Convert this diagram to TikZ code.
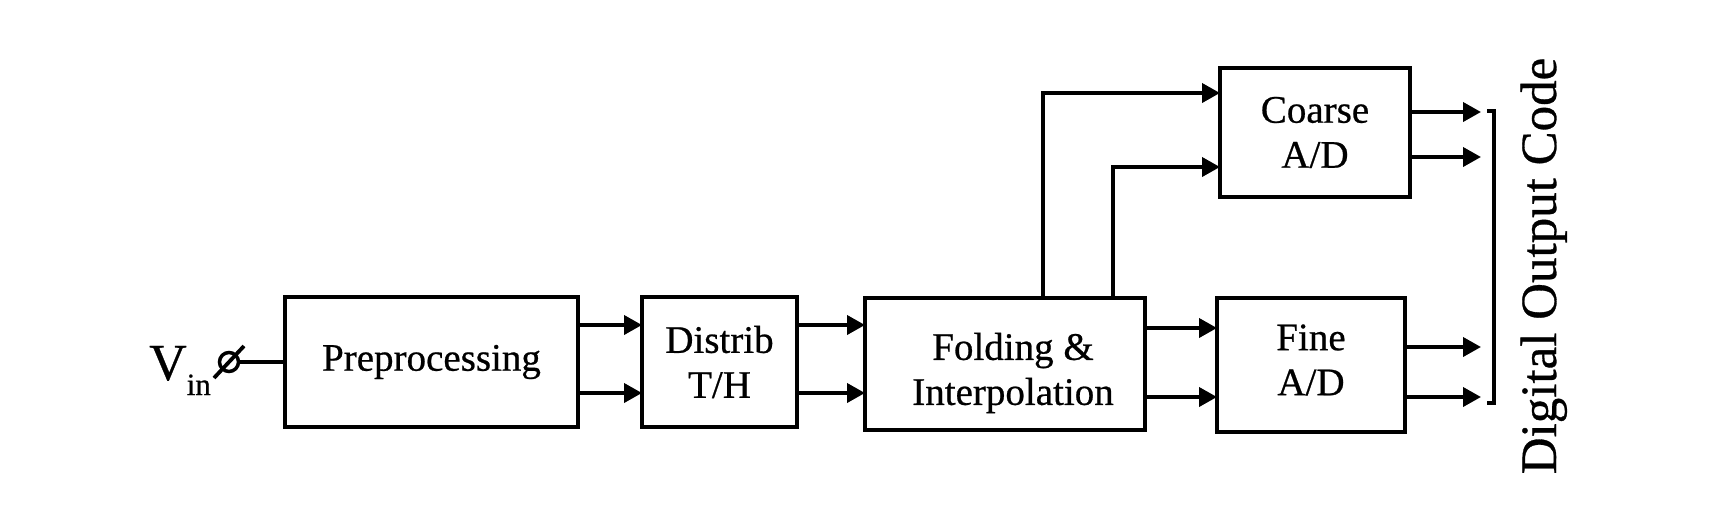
\documentclass[tikz,border=0pt]{standalone}
\usepackage{fontspec}
\setmainfont[FakeBold=0.6,AutoFakeBold=0.6]{Liberation Serif}
\usetikzlibrary{arrows.meta,calc}
\begin{document}
\begin{tikzpicture}[x=1pt,y=-1pt,
  blk/.style={draw, line width=4pt, rectangle, inner sep=0pt, outer sep=0pt, align=center,
    font=\fontsize{39}{45}\selectfont},
  txt/.style={inner sep=0pt, align=center, font=\fontsize{39}{45}\selectfont},
  arr/.style={line width=3.8pt, -{Triangle[length=18pt,width=19pt]}},
  wire/.style={line width=3.8pt}]
\useasboundingbox (0,0) rectangle (1717,525);

% blocks
\node[blk, minimum width=293pt, minimum height=130pt] (prep) at (431.5,362) {Preprocessing};
\node[blk, minimum width=155pt, minimum height=130pt] (dist) at (719.5,362) {Distrib\\T/H};
\node[blk, minimum width=280pt, minimum height=132pt] (fold) at (1005,364) {};
\node[txt] (foldtxt) at ($(fold.center)+(8,9)$) {Folding \&\\Interpolation};
\node[blk, minimum width=190pt, minimum height=129pt] (coarse) at (1315,132.5) {Coarse\\A/D};
\node[blk, minimum width=188pt, minimum height=134pt] (fine) at (1311,365) {};
\node[txt] (finetxt) at ($(fine.center)+(0,-5)$) {Fine\\A/D};

% input terminal
\node[anchor=base west, inner sep=0pt, font=\fontsize{52}{60}\selectfont] (vin) at (149,380)
  {V\raisebox{-15pt}{\fontsize{31}{31}\selectfont in}};
\node[circle, draw, line width=3.5pt, minimum size=19pt, inner sep=0pt] (term) at (229,362) {};
\draw[wire] ($(term)+(-15,16)$) -- ($(term)+(15,-16)$);
\draw[wire] (term.east) -- (term.east -| prep.west);

% preprocessing -> distrib
\coordinate (a1) at ($(prep.east)+(0,-37)$);
\coordinate (a2) at ($(prep.east)+(0,31)$);
\draw[arr] (a1) -- (a1 -| dist.west);
\draw[arr] (a2) -- (a2 -| dist.west);

% distrib -> folding
\coordinate (b1) at ($(dist.east)+(0,-37)$);
\coordinate (b2) at ($(dist.east)+(0,31)$);
\draw[arr] (b1) -- (b1 -| fold.west);
\draw[arr] (b2) -- (b2 -| fold.west);

% folding -> fine
\coordinate (c1) at ($(fold.east)+(0,-36)$);
\coordinate (c2) at ($(fold.east)+(0,33)$);
\draw[arr] (c1) -- (c1 -| fine.west);
\draw[arr] (c2) -- (c2 -| fine.west);

% folding -> coarse
\coordinate (d1) at ($(fold.north)+(38,0)$);
\coordinate (d2) at ($(fold.north)+(108,0)$);
\coordinate (e1) at ($(coarse.west)+(0,-39.5)$);
\coordinate (e2) at ($(coarse.west)+(0,34.5)$);
\draw[arr] (d1) |- (e1);
\draw[arr] (d2) |- (e2);

% outputs
\coordinate (tipx) at (1481,0);
\coordinate (f1) at ($(coarse.east)+(0,-20.5)$);
\coordinate (f2) at ($(coarse.east)+(0,24.5)$);
\coordinate (g1) at ($(fine.east)+(0,-18)$);
\coordinate (g2) at ($(fine.east)+(0,32)$);
\draw[arr] (f1) -- (f1 -| tipx);
\draw[arr] (f2) -- (f2 -| tipx);
\draw[arr] (g1) -- (g1 -| tipx);
\draw[arr] (g2) -- (g2 -| tipx);

% bracket
\coordinate (bt) at (1494,111);
\coordinate (bb) at (1494,403);
\draw[line width=3.2pt] ($(bt)+(-7,0)$) -- (bt) -- (bb) -- ($(bb)+(-7,0)$);

% label
\node[rotate=90, anchor=base, inner sep=0pt, font=\fontsize{51}{60}\selectfont] (doc) at (1556,266) {Digital Output Code};
\end{tikzpicture}
\end{document}
